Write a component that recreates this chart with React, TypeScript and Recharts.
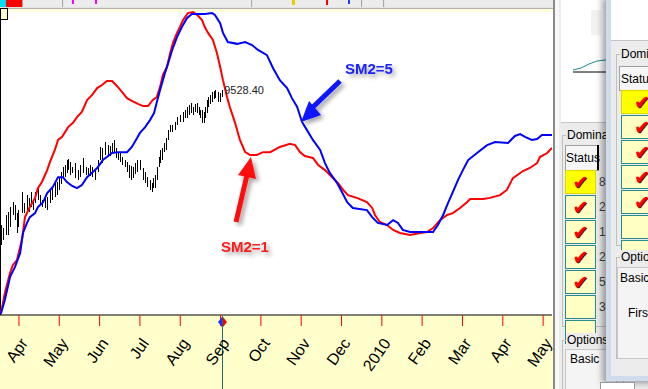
import { ComposedChart, Line, Bar, XAxis, YAxis, ReferenceDot } from 'recharts';

// month ticks (Apr 2009 .. May 2010), x unit = months since 1 Mar 2009
const monthTicks = [1, 2, 3, 4, 5, 6, 7, 8, 9, 10, 11, 12, 13, 14];
const monthLabels = ['Apr', 'May', 'Jun', 'Jul', 'Aug', 'Sep', 'Oct', 'Nov', 'Dec', '2010', 'Feb', 'Mar', 'Apr', 'May'];

// SM2=1 (red) [month, value]
const sm2One: [number, number][] = [
    [0.53, 0.3], [0.58, 2.3], [0.65, 7.2], [0.78, 13.8], [0.85, 16.4], [0.95, 18.0], [1.03, 22.3], [1.08, 25.2],
    [1.15, 32.1], [1.27, 35.4], [1.40, 38.4], [1.47, 41.6], [1.57, 43.6], [1.70, 47.5], [1.77, 50.2], [1.89, 54.1],
    [1.97, 57.4], [2.07, 58.4], [2.22, 61.6], [2.34, 63.0], [2.44, 64.9], [2.56, 66.6], [2.69, 70.5], [2.81, 72.1],
    [2.94, 74.4], [3.06, 75.4], [3.18, 76.7], [3.31, 76.7], [3.43, 75.1], [3.56, 73.1], [3.68, 71.1], [3.80, 70.2],
    [3.95, 69.2], [4.08, 68.5], [4.20, 68.5], [4.32, 70.5], [4.42, 71.5], [4.50, 74.8], [4.57, 78.7], [4.67, 81.3],
    [4.75, 85.9], [4.82, 89.2], [4.92, 92.5], [4.99, 94.4], [5.07, 96.7], [5.19, 99.0], [5.32, 99.3], [5.42, 98.4],
    [5.54, 96.7], [5.61, 94.4], [5.69, 92.5], [5.81, 90.2], [5.91, 85.9], [5.99, 81.3], [6.06, 77.0], [6.16, 71.5],
    [6.23, 68.2], [6.36, 63.0], [6.48, 57.4], [6.61, 53.4], [6.73, 52.5], [6.90, 52.5], [7.05, 53.4], [7.23, 53.4],
    [7.47, 55.1], [7.72, 56.1], [7.85, 55.7], [7.97, 53.4], [8.09, 52.1], [8.29, 51.5], [8.42, 49.2], [8.59, 47.5],
    [8.76, 45.2], [8.91, 43.3], [9.04, 41.0], [9.16, 39.3], [9.38, 38.4], [9.63, 37.0], [9.76, 35.1], [9.83, 32.8],
    [9.95, 30.5], [10.13, 29.5], [10.28, 27.9], [10.45, 26.9], [10.70, 26.2], [10.95, 26.9], [11.12, 27.2], [11.27, 28.5],
    [11.44, 31.1], [11.62, 32.8], [11.76, 33.4], [11.94, 35.1], [12.11, 37.0], [12.19, 38.0], [12.51, 38.0], [12.68, 38.4],
    [12.93, 39.3], [13.10, 41.0], [13.25, 44.9], [13.50, 47.2], [13.67, 48.2], [13.85, 49.8], [13.92, 51.8], [14.10, 53.1],
    [14.22, 54.8],
];

// SM2=5 (blue) [month, value]
const sm2Five: [number, number][] = [
    [0.55, 0.3], [0.65, 4.9], [0.78, 12.5], [0.90, 15.7], [1.03, 20.3], [1.10, 26.9], [1.20, 30.2], [1.27, 32.1],
    [1.40, 33.4], [1.47, 35.4], [1.60, 37.0], [1.70, 40.0], [1.84, 42.0], [1.97, 45.2], [2.09, 45.2], [2.19, 43.6],
    [2.32, 42.3], [2.44, 41.6], [2.56, 42.6], [2.69, 45.2], [2.81, 46.6], [2.94, 48.2], [3.08, 50.8], [3.18, 51.8],
    [3.31, 53.1], [3.46, 53.4], [3.68, 53.4], [3.80, 55.1], [3.93, 58.0], [4.00, 59.7], [4.13, 61.6], [4.25, 63.9],
    [4.35, 66.2], [4.42, 69.8], [4.50, 73.8], [4.55, 76.1], [4.62, 79.3], [4.70, 82.6], [4.80, 86.9], [4.92, 91.1],
    [5.04, 94.4], [5.17, 97.4], [5.29, 98.7], [5.42, 98.7], [5.61, 98.7], [5.79, 99.0], [5.86, 98.4], [5.99, 95.7],
    [6.06, 92.5], [6.18, 89.5], [6.41, 88.9], [6.61, 89.5], [6.78, 88.5], [6.93, 86.9], [7.15, 85.2], [7.30, 81.0],
    [7.47, 77.0], [7.65, 74.4], [7.77, 71.1], [7.90, 68.2], [8.02, 63.3], [8.14, 60.7], [8.29, 57.4], [8.47, 54.1],
    [8.59, 49.8], [8.71, 46.6], [8.89, 43.3], [9.01, 40.3], [9.14, 37.0], [9.28, 35.1], [9.63, 34.4], [9.76, 32.1],
    [9.90, 30.2], [10.13, 29.5], [10.28, 31.1], [10.40, 30.2], [10.52, 27.9], [10.70, 27.2], [10.95, 27.2], [11.27, 27.2],
    [11.39, 29.5], [11.52, 32.8], [11.64, 36.7], [11.76, 40.3], [11.89, 44.3], [12.01, 47.5], [12.14, 50.8], [12.36, 53.1],
    [12.61, 55.7], [12.81, 56.7], [13.13, 56.4], [13.30, 58.7], [13.43, 59.3], [13.55, 58.4], [13.72, 57.4], [13.85, 57.7],
    [13.97, 59.0], [14.22, 59.0],
];

// daily price bars [month, high, low]
const priceBars: [number, number, number][] = [
    [0.55, 7629, 7348], [0.60, 7587, 7418], [0.68, 7769, 7488], [0.73, 7812, 7488], [0.78, 7882, 7601], [0.85, 7952, 7769],
    [0.90, 7910, 7699], [0.95, 7798, 7516], [0.98, 7840, 7601], [1.08, 8093, 7798], [1.13, 7938, 7798], [1.20, 8051, 7840],
    [1.25, 8009, 7812], [1.30, 8093, 7882], [1.35, 7980, 7840], [1.40, 8093, 7938], [1.47, 8163, 7980], [1.52, 8051, 7910],
    [1.57, 7980, 7882], [1.65, 8051, 7868], [1.70, 8023, 7840], [1.77, 8121, 7938], [1.82, 8149, 7980], [1.89, 8220, 8023],
    [1.94, 8234, 8051], [1.99, 8290, 8121], [2.04, 8374, 8206], [2.09, 8445, 8304], [2.14, 8473, 8304], [2.19, 8543, 8360],
    [2.22, 8557, 8402], [2.27, 8515, 8332], [2.32, 8445, 8360], [2.39, 8501, 8290], [2.46, 8402, 8262], [2.51, 8473, 8304],
    [2.59, 8571, 8360], [2.66, 8445, 8332], [2.71, 8431, 8332], [2.76, 8473, 8318], [2.81, 8445, 8304], [2.89, 8402, 8262],
    [2.96, 8543, 8374], [3.01, 8726, 8543], [3.06, 8712, 8501], [3.13, 8796, 8613], [3.21, 8754, 8585], [3.26, 8740, 8599],
    [3.31, 8782, 8642], [3.36, 8824, 8656], [3.41, 8712, 8571], [3.46, 8642, 8543], [3.51, 8656, 8515], [3.56, 8585, 8473],
    [3.63, 8543, 8445], [3.68, 8515, 8374], [3.73, 8473, 8290], [3.78, 8459, 8262], [3.83, 8445, 8290], [3.88, 8501, 8346],
    [3.93, 8543, 8374], [4.00, 8543, 8402], [4.08, 8431, 8262], [4.13, 8374, 8220], [4.18, 8304, 8163], [4.25, 8262, 8121],
    [4.30, 8220, 8093], [4.32, 8290, 8149], [4.37, 8332, 8149], [4.42, 8445, 8262], [4.47, 8585, 8445], [4.50, 8684, 8501],
    [4.55, 8712, 8543], [4.60, 8782, 8656], [4.65, 8853, 8684], [4.70, 8965, 8824], [4.75, 9035, 8937], [4.80, 9035, 8937],
    [4.87, 9078, 8965], [4.92, 9148, 9035], [4.99, 9176, 9078], [5.07, 9218, 9078], [5.12, 9246, 9134], [5.17, 9289, 9134],
    [5.22, 9317, 9176], [5.27, 9345, 9204], [5.32, 9289, 9176], [5.37, 9331, 9218], [5.42, 9345, 9204], [5.47, 9289, 9176],
    [5.49, 9246, 9134], [5.54, 9246, 9064], [5.59, 9218, 9064], [5.61, 9289, 9134], [5.66, 9387, 9204], [5.69, 9429, 9289],
    [5.74, 9457, 9331], [5.79, 9500, 9359], [5.84, 9514, 9401], [5.86, 9528, 9415], [5.94, 9500, 9359], [5.99, 9486, 9359],
    [6.04, 9528, 9429],
];
const lastClose = 9528.4;

const X_DOMAIN: [number, number] = [0.53, 14.22];
const FONT = 'Liberation Sans, Arial, sans-serif';

const MonthTick = (props: any) => {
    const { x, y, payload } = props;
    const label = monthLabels[monthTicks.indexOf(payload.value)];
    return (
        <g transform={`translate(${x + 5},${y + 12})`}>
            <text textAnchor="end" transform="rotate(-55)" fontSize={16} fontFamily={FONT} fill="#000" dy="0.35em">
                {label}
            </text>
        </g>
    );
};

// crisp 1px OHLC-style bar
const PriceBar = (props: any) => {
    const { x, y, width, height } = props;
    if (height == null) return null;
    return <rect x={Math.round(x + width / 2)} y={Math.round(y)} width={1} height={Math.max(1, Math.round(height))} fill="#000" shapeRendering="crispEdges" />;
};

function Check() {
    return (
        <span style={{ color: '#ff0000', fontSize: 19, fontFamily: 'DejaVu Sans', textShadow: '1px 1px 0 #600', lineHeight: '22px' }}>✔</span>
    );
}

function Cell({ left, top, width, bright, check }: { left: number; top: number; width: number; bright?: boolean; check?: boolean }) {
    return (
        <div style={{
            position: 'absolute', left, top, width, height: 22,
            background: bright ? '#ffff00' : '#ffffc4',
            border: bright ? '1px solid #d8d800' : '1px solid #2a8c8c',
            display: 'flex', alignItems: 'center', justifyContent: 'center',
        }}>
            {check ? <Check /> : null}
        </div>
    );
}

function SidePanel() {
    const rowsL = [170, 195, 220, 245, 270, 295, 320];
    const digits = ['8', '2', '1', '2', '5', '3'];
    const rowsR = [90, 115, 140, 165, 190, 215, 240];
    const txt = { position: 'absolute' as const, fontSize: 12, fontFamily: FONT, color: '#000', lineHeight: '14px' };
    return (
        <div style={{ position: 'absolute', left: 553, top: 0, width: 95, height: 389, background: '#ececec', overflow: 'hidden' }}>
            <div style={{ position: 'absolute', left: 0, top: 0, width: 2, height: 389, background: '#8a8a8a' }} />
            <div style={{ position: 'absolute', left: 2, top: 0, width: 4, height: 389, background: '#f8f8f8' }} />
            {/* small preview chart */}
            <div style={{ position: 'absolute', left: 8, top: 0, width: 50, height: 122, background: '#fff', borderBottom: '1px solid #c4c4c4' }}>
                <svg width={50} height={122}>
                    <path d="M12 70 L20 68 L28 64 L36 61 L44 60 L50 60" stroke="#1c8a8a" fill="none" strokeWidth={1} />
                    <line x1={12} y1={72} x2={50} y2={72} stroke="#000" strokeWidth={1} />
                    <rect x={30} y={10} width={10} height={25} fill="#f2f2f2" />
                </svg>
            </div>
            {/* Domina group */}
            <div style={{ position: 'absolute', left: 9, top: 135, width: 60, height: 190, border: '1px solid #c0c0c0' }} />
            <div style={{ ...txt, left: 13, top: 128, background: '#ececec', padding: '0 1px' }}>Domina</div>
            <div style={{ position: 'absolute', left: 12, top: 145, width: 32, height: 24, background: '#f6f6f6', border: '1px solid #a0a0a0' }} />
            <div style={{ position: 'absolute', left: 44, top: 145, width: 2, height: 25, background: '#000' }} />
            <div style={{ ...txt, left: 13, top: 151 }}>Status</div>
            {rowsL.map((t, i) => (
                <Cell key={t} left={12} top={t} width={29} bright={i === 0} check={i < 5} />
            ))}
            {digits.map((d, i) => (
                <div key={i} style={{ ...txt, left: 46, top: rowsL[i] + 5, color: '#444' }}>{d}</div>
            ))}
            {/* Options group */}
            <div style={{ position: 'absolute', left: 9, top: 340, width: 60, height: 60, border: '1px solid #c0c0c0' }} />
            <div style={{ ...txt, left: 13, top: 333, background: '#ececec', padding: '0 1px' }}>Options</div>
            <div style={{ position: 'absolute', left: 12, top: 349, width: 50, height: 40, background: '#f4f4f4', border: '1px solid #c8c8c8' }} />
            <div style={{ ...txt, left: 17, top: 352 }}>Basic</div>
            {/* overlapping second window */}
            <div style={{
                position: 'absolute', left: 53, top: -4, width: 50, height: 380, background: '#ececec',
                borderLeft: '5px solid #cfdcec', borderBottom: '5px solid #cfdcec',
                boxShadow: '-4px 2px 6px rgba(0,0,0,0.35)',
            }}>
                <div style={{ position: 'absolute', left: 0, top: 4, width: 50, height: 40, background: '#fff', borderBottom: '1px solid #c4c4c4' }} />
                <div style={{ position: 'absolute', left: 5, top: 58, width: 60, height: 190, border: '1px solid #c0c0c0' }} />
                <div style={{ ...txt, left: 9, top: 51, background: '#ececec', padding: '0 1px' }}>Domin</div>
                <div style={{ position: 'absolute', left: 8, top: 70, width: 40, height: 23, background: '#f6f6f6', border: '1px solid #a0a0a0' }} />
                <div style={{ ...txt, left: 10, top: 76 }}>Status</div>
                {rowsR.map((t, i) => (
                    <Cell key={t} left={10} top={t + 4} width={40} bright={i === 0} check={i < 5} />
                ))}
                <div style={{ position: 'absolute', left: 5, top: 261, width: 60, height: 100, border: '1px solid #c0c0c0' }} />
                <div style={{ ...txt, left: 9, top: 254, background: '#ececec', padding: '0 1px' }}>Option</div>
                <div style={{ position: 'absolute', left: 6, top: 271, width: 50, height: 90, background: '#f4f4f4', border: '1px solid #c8c8c8' }} />
                <div style={{ ...txt, left: 9, top: 275 }}>Basic</div>
                <div style={{ ...txt, left: 17, top: 310 }}>First</div>
            </div>
            <div style={{ position: 'absolute', left: 47, top: 382, width: 33, height: 10, background: '#fff', border: '1px solid #999' }} />
        </div>
    );
}

function Toolbar() {
    const seg = (left: number, width: number, bg: string) => (
        <div style={{ position: 'absolute', left, top: 0, width, height: 7, background: bg, borderRight: '1px solid #a8a8a8' }} />
    );
    return (
        <>
            <div style={{ position: 'absolute', left: 0, top: 0, width: 553, height: 8, background: '#e4e4e4', borderBottom: '1px solid #b0b0b0' }} />
            {seg(0, 6, '#00e0f0')}
            {seg(6, 16, '#ff0000')}
            {seg(24, 38, '#ececec')}
            {seg(64, 187, '#ececec')}
            {seg(253, 108, '#ececec')}
            {seg(363, 20, '#ececec')}
            {seg(385, 168, '#ececec')}
            <div style={{ position: 'absolute', left: 72, top: 0, width: 2, height: 4, background: '#ff00ff' }} />
            <div style={{ position: 'absolute', left: 95, top: 0, width: 2, height: 4, background: '#ff00ff' }} />
            <div style={{ position: 'absolute', left: 292, top: 0, width: 3, height: 5, background: '#e8d000' }} />
            <div style={{ position: 'absolute', left: 326, top: 0, width: 2, height: 5, background: '#ff0000' }} />
            <div style={{ position: 'absolute', left: 348, top: 0, width: 2, height: 4, background: '#2040ff' }} />
            <div style={{ position: 'absolute', left: 0, top: 9, width: 553, height: 3, background: '#ffffdc' }} />
            <div style={{ position: 'absolute', left: 0, top: 8, width: 6, height: 10, background: '#ffffc8', border: '1px solid #000' }} />
        </>
    );
}

function Annotations() {
    return (
        <svg width={553} height={389} style={{ position: 'absolute', left: 0, top: 0, pointerEvents: 'none' }}>
            <defs>
                <filter id="sh" x="-50%" y="-50%" width="200%" height="200%">
                    <feDropShadow dx={3} dy={3} stdDeviation={2} floodColor="#000" floodOpacity={0.35} />
                </filter>
            </defs>
            <g filter="url(#sh)">
                <line x1={340} y1={81} x2={313} y2={107} stroke="#0a14ff" strokeWidth={5} />
                <polygon points="301,122 321,115 309,101" fill="#0a14ff" />
                <line x1={236} y1={222} x2={247} y2={175} stroke="#ff1010" strokeWidth={5} />
                <polygon points="251,157 256,179 238,175" fill="#ff1010" />
                <text x={345} y={74} fontSize={15} fontWeight="bold" fontFamily={FONT} fill="#1a22ff">SM2=5</text>
                <text x={221} y={252} fontSize={15} fontWeight="bold" fontFamily={FONT} fill="#ff1a1a">SM2=1</text>
            </g>
        </svg>
    );
}

export default function App() {
    const priceData = priceBars.map(([m, high, low]) => ({ m, range: [low, high] }));
    const fastData = sm2One.map(([m, v]) => ({ m, v }));
    const slowData = sm2Five.map(([m, v]) => ({ m, v }));
    const lastX = priceBars[priceBars.length - 1][0];
    const cursorLeft = ((lastX - X_DOMAIN[0]) / (X_DOMAIN[1] - X_DOMAIN[0])) * 552;

    return (
        <div style={{ position: 'absolute', left: 0, top: 0, width: 648, height: 389, background: '#ececec', overflow: 'hidden' }}>
            <div style={{ position: 'absolute', left: 0, top: 11, width: 553, height: 304, background: '#fff' }} />
            <div style={{ position: 'absolute', left: 0, top: 315, width: 553, height: 74, background: '#ffffcc' }} />
            <div style={{ position: 'absolute', left: 0, top: 18, width: 1, height: 297, background: '#000' }} />
            <div style={{ position: 'absolute', left: cursorLeft, top: 316, width: 1, height: 73, background: '#1f6f6a' }} />
            <Toolbar />
            <div style={{ position: 'absolute', left: 0, top: 0 }}>
                <ComposedChart width={553} height={389} data={priceData} margin={{ top: 10, right: 1, left: 0, bottom: 0 }}>
                    <XAxis
                        dataKey="m"
                        type="number"
                        domain={X_DOMAIN}
                        allowDataOverflow
                        ticks={monthTicks}
                        interval={0}
                        height={74}
                        tickSize={11}
                        tickLine={{ stroke: '#ff0000' }}
                        axisLine={{ stroke: '#000' }}
                        tick={<MonthTick />}
                    />
                    <YAxis yAxisId="ind" domain={[0, 100]} hide allowDataOverflow />
                    <YAxis yAxisId="price" domain={[6363, 10653]} hide allowDataOverflow />
                    <Bar yAxisId="price" dataKey="range" fill="#000" barSize={1} shape={<PriceBar />} isAnimationActive={false} />
                    <Line yAxisId="ind" data={fastData} dataKey="v" stroke="#ff0000" strokeWidth={2} dot={false} isAnimationActive={false} />
                    <Line yAxisId="ind" data={slowData} dataKey="v" stroke="#0000ff" strokeWidth={2} dot={false} isAnimationActive={false} />
                    <ReferenceDot
                        yAxisId="price"
                        x={lastX}
                        y={lastClose}
                        r={0}
                        label={{ value: lastClose.toFixed(2), position: 'right', offset: 2, fontSize: 11, fontFamily: FONT, fill: '#222' }}
                    />
                </ComposedChart>
            </div>
            <svg width={12} height={12} style={{ position: 'absolute', left: cursorLeft - 5, top: 316 }}>
                <polygon points="5,1 5,11 1,6" fill="#1a2cff" />
                <polygon points="6,1 6,11 10,6" fill="#ff0000" />
            </svg>
            <Annotations />
            <SidePanel />
        </div>
    );
}
